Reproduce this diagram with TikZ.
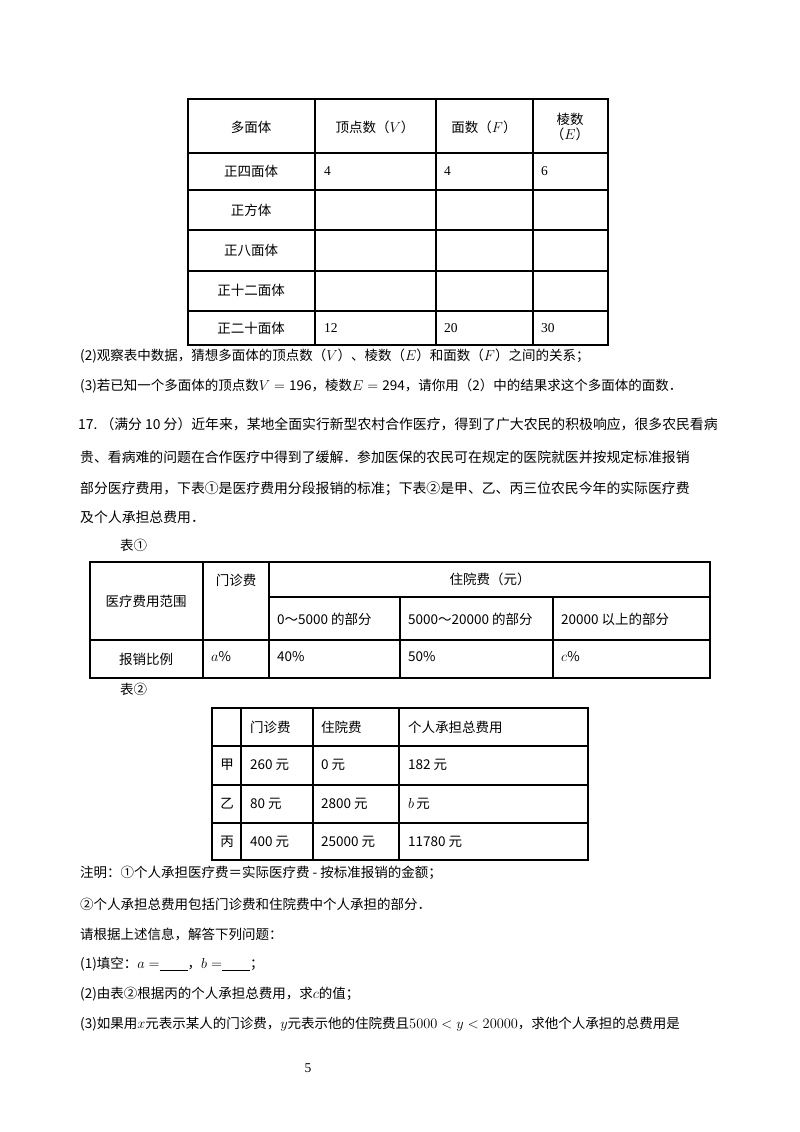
\documentclass[tikz,border=0pt]{standalone}
\usepackage{fontspec}
\setmainfont{Noto Sans CJK SC}
\newfontfamily\ser{Liberation Serif}
\begin{document}
\begin{tikzpicture}[x=1pt,y=-1pt,
  every node/.style={inner sep=0pt,font=\fontsize{13.5}{15}\selectfont},
  grid/.style={line width=1.1pt},
  tx/.style={anchor=west},
  px/.style={anchor=west,font=\fontsize{13.85}{15}\selectfont},
  ct/.style={anchor=center}]
\fill[white] (0,0) rectangle (800,1132);
\useasboundingbox (0,0) rectangle (800,1132);
% table 1
\draw[grid] (188,99) rectangle (608,345);
\foreach \y in {153,190,230,271,311} \draw[grid] (188,\y) -- (608,\y);
\foreach \x in {315,436,533} \draw[grid] (\x,99) -- (\x,345);
\node[ct] (h1) at (251,127) {多面体};
\node[ct] (h2) at (375,127) {顶点数（$V$）};
\node[ct] (h3) at (484,127) {面数（$F$）};
\node[ct,align=center] (h4) at (570,127) {棱数\\（$E$）};
\node[ct] (r1) at (251,171) {正四面体};
\node[ct] (r2) at (251,210) {正方体};
\node[ct] (r3) at (251,250) {正八面体};
\node[ct] (r4) at (251,290) {正十二面体};
\node[ct] (r5) at (251,328) {正二十面体};
\node[tx] (a1) at (324,171) {\ser 4};
\node[tx] (a2) at (444,171) {\ser 4};
\node[tx] (a3) at (541,171) {\ser 6};
\node[tx] (b1) at (324,328) {\ser 12};
\node[tx] (b2) at (444,328) {\ser 20};
\node[tx] (b3) at (541,328) {\ser 30};
\node[tx] (q2) at (80,356) {(2)观察表中数据，猜想多面体的顶点数（$V$）、棱数（$E$）和面数（$F$）之间的关系；};
\node[tx] (q3) at (80,386) {(3)若已知一个多面体的顶点数$V={}$196，棱数$E={}$294，请你用（2）中的结果求这个多面体的面数．};
% problem 17
\node[px] (p1) at (78,424) {17.\ （满分 10 分）近年来，某地全面实行新型农村合作医疗，得到了广大农民的积极响应，很多农民看病};
\node[px] (p2) at (80,457) {贵、看病难的问题在合作医疗中得到了缓解．参加医保的农民可在规定的医院就医并按规定标准报销};
\node[px] (p3) at (80,489) {部分医疗费用，下表①是医疗费用分段报销的标准；下表②是甲、乙、丙三位农民今年的实际医疗费};
\node[px] (p4) at (80,517) {及个人承担总费用．};
\node[tx] (t1) at (120,545) {表①};
% table 2
\draw[grid] (90,562) rectangle (710,678);
\draw[grid] (269,597) -- (710,597);
\draw[grid] (90,640) -- (710,640);
\draw[grid] (203,562) -- (203,678);
\draw[grid] (269,562) -- (269,678);
\draw[grid] (400,597) -- (400,678);
\draw[grid] (553,597) -- (553,678);
\node[ct] (c1) at (146,601) {医疗费用范围};
\node[ct] (c2) at (236,580) {门诊费};
\node[ct] (c3) at (490,579) {住院费（元）};
\node[tx] (c4) at (277,619) {0～5000 的部分};
\node[tx] (c5) at (408,619) {5000～20000 的部分};
\node[tx] (c6) at (561,619) {20000 以上的部分};
\node[ct] (d1) at (146,659) {报销比例};
\node[tx] (d2) at (211,657) {$a$\%};
\node[tx] (d3) at (277,657) {40\%};
\node[tx] (d4) at (408,657) {50\%};
\node[tx] (d5) at (561,657) {$c$\%};
\node[tx] (t2) at (120,689) {表②};
% table 3
\draw[grid] (212,708) rectangle (588,860);
\foreach \y in {746,785,823} \draw[grid] (212,\y) -- (588,\y);
\foreach \x in {241,313,399} \draw[grid] (\x,708) -- (\x,860);
\node[tx] (e1) at (250,727) {门诊费};
\node[tx] (e2) at (321,727) {住院费};
\node[tx] (e3) at (408,727) {个人承担总费用};
\node[ct] (f0) at (227,765) {甲};
\node[tx] (f1) at (250,765) {260 元};
\node[tx] (f2) at (321,765) {0 元};
\node[tx] (f3) at (408,765) {182 元};
\node[ct] (g0) at (227,804) {乙};
\node[tx] (g1) at (250,804) {80 元};
\node[tx] (g2) at (321,804) {2800 元};
\node[tx] (g3) at (408,804) {$b$\,元};
\node[ct] (h0) at (227,842) {丙};
\node[tx] (hh1) at (250,842) {400 元};
\node[tx] (hh2) at (321,842) {25000 元};
\node[tx] (hh3) at (408,842) {11780 元};
% notes
\node[tx] (n1) at (80,873) {注明：①个人承担医疗费＝实际医疗费 - 按标准报销的金额；};
\node[tx] (n2) at (80,904) {②个人承担总费用包括门诊费和住院费中个人承担的部分．};
\node[tx] (n3) at (80,934) {请根据上述信息，解答下列问题：};
\node[tx] (n4) at (80,964) {(1)填空：$a=$\underline{\hspace{28pt}}，$b=$\underline{\hspace{28pt}}；};
\node[tx] (n5) at (80,994) {(2)由表②根据丙的个人承担总费用，求$c$的值；};
\node[tx] (n6) at (80,1024) {(3)如果用$x$元表示某人的门诊费，$y$元表示他的住院费且$5000<y<20000$，求他个人承担的总费用是};
\node[ct] (pg) at (308,1068) {\ser 5};
\end{tikzpicture}
\end{document}
